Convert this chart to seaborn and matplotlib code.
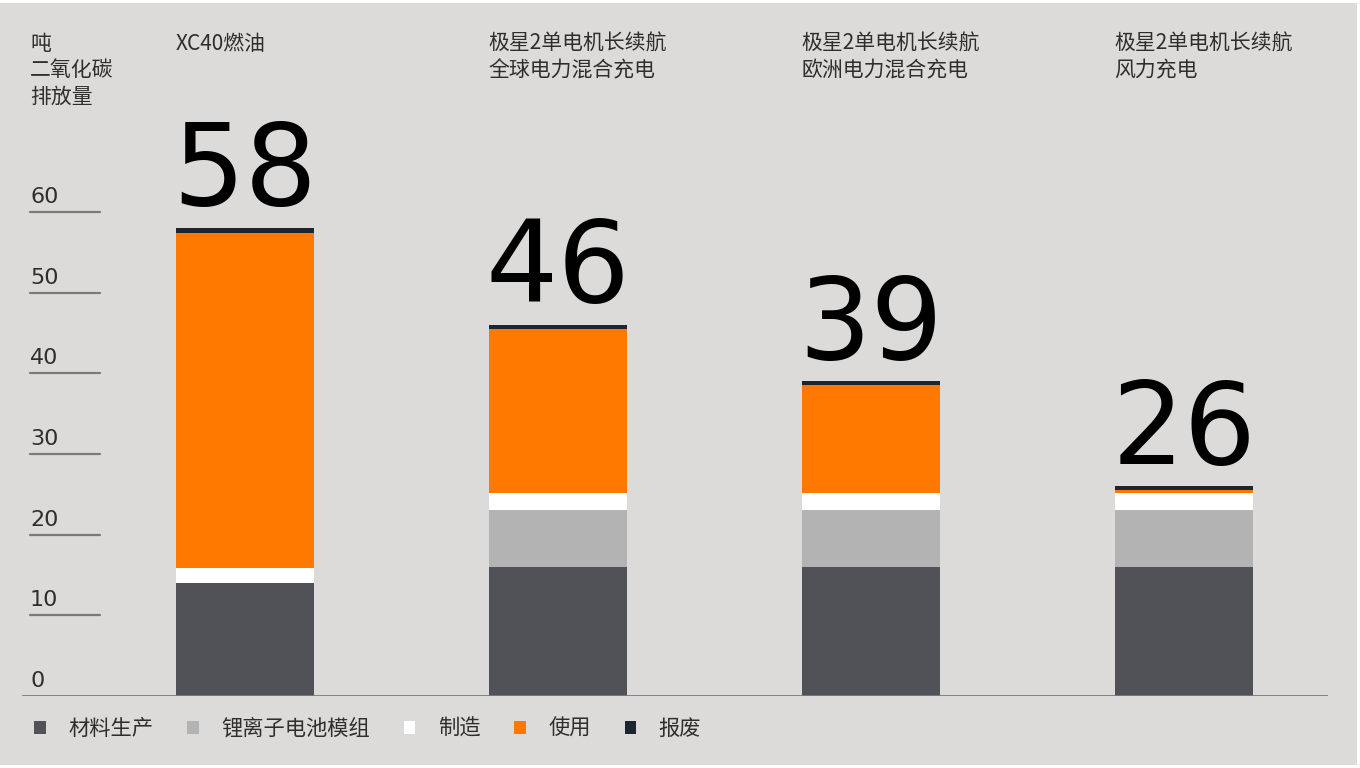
import matplotlib
matplotlib.use("Agg")
import matplotlib.pyplot as plt
from matplotlib.patches import Rectangle, Patch
import seaborn as sns
import pandas as pd
import numpy as np

sns.set_theme(style="white")
plt.rcParams['font.family'] = ['Noto Sans CJK SC', 'DejaVu Sans']

# ---- data ----
categories = ["XC40燃油", "极星2单电机长续航\n全球电力混合充电",
              "极星2单电机长续航\n欧洲电力混合充电", "极星2单电机长续航\n风力充电"]
totals = [58, 46, 39, 26]
layers = ["材料生产", "锂离子电池模组", "制造", "使用", "报废"]
material = [14.0, 16.0, 16.0, 16.0]
battery = [0.0, 7.0, 7.0, 7.0]
manufacturing = [1.9, 2.1, 2.1, 2.1]
use = [41.5, 20.4, 13.4, 0.4]
scrap = [0.6, 0.5, 0.5, 0.5]
yticks = [0, 10, 20, 30, 40, 50, 60]
y_title = "吨\n二氧化碳\n排放量"

colors = ["#505257", "#b2b3b2", "#ffffff", "#ff7800", "#1c2530"]
bg = "#dcdbd9"
txt = "#2e2e2e"

series = [material, battery, manufacturing, use, scrap]
cum = np.cumsum(np.array(series), axis=0)

W, H = 1360, 768
fig = plt.figure(figsize=(W / 100, H / 100), dpi=100, facecolor="white")
fig.patches.append(Rectangle((0, 3 / H), 1357 / W, 762 / H, transform=fig.transFigure,
                             facecolor=bg, edgecolor="none", zorder=-10))

# axes: x from 22 to 1328 px, y zero at 696 px, 8.07 px/unit
ax_left, ax_right = 22, 1328
y0_px = 696
ppu = 8.07
ax_top_px = 0
ax = fig.add_axes([ax_left / W, (H - y0_px) / H, (ax_right - ax_left) / W, (y0_px - ax_top_px) / H])
ax.set_facecolor("none")

short = ["XC40", "P2 Global", "P2 EU", "P2 Wind"]
for i in range(len(layers) - 1, -1, -1):
    df = pd.DataFrame({"cat": short, "val": cum[i]})
    sns.barplot(data=df, x="cat", y="val", order=short, color=colors[i],
                width=0.444, ax=ax, saturation=1, edgecolor="none", linewidth=0)

# x limits so bar centres sit at 245,558,871,1184 px
spacing = 313
ax.set_xlim(-(245 - ax_left) / spacing, 3 + (ax_right - 1184) / spacing)
ax.set_ylim(0, (y0_px - ax_top_px) / ppu)
ax.axis("off")

# baseline
ax.axhline(0, xmin=0, xmax=1, color="#7a7a7a", lw=2, zorder=5)
# short tick lines and labels
x_a, x_b = (30 - ax_left) / (ax_right - ax_left), (100 - ax_left) / (ax_right - ax_left)
for t in yticks:
    if t > 0:
        ax.axhline(t, xmin=x_a, xmax=x_b, color="#7a7a7a", lw=1.6, zorder=5)
    ax.text(x_a, t + 1.1, str(t), transform=ax.get_yaxis_transform(), ha="left", va="baseline",
            fontsize=16, color=txt, family=["DejaVu Sans"])

# big totals
for i, tot in enumerate(totals):
    ax.text(i, tot + 2.8, str(tot), ha="center", va="baseline", fontsize=82,
            color="black", family=["DejaVu Sans"])

# category labels at top, left aligned with bars
for i, c in enumerate(categories):
    ax.text(i - 0.222, 1 - 33 / (y0_px - ax_top_px), c, transform=ax.get_xaxis_transform(),
            ha="left", va="top", fontsize=15, color=txt, linespacing=1.25)

# y title
fig.text(30 / W, 1 - 33 / H, y_title, ha="left", va="top", fontsize=15, color=txt, linespacing=1.25)

# legend
handles = [Patch(facecolor=c, edgecolor="none") for c in colors]
leg = fig.legend(handles, layers, loc="center left", bbox_to_anchor=(34 / W, 1 - 729 / H),
                 ncol=5, frameon=False, borderpad=0, borderaxespad=0,
                 handlelength=0.55, handleheight=0.55, handletextpad=1.05,
                 columnspacing=1.6, fontsize=15.3, labelcolor=txt)

fig.savefig("out.png", dpi=100, facecolor=fig.get_facecolor())
